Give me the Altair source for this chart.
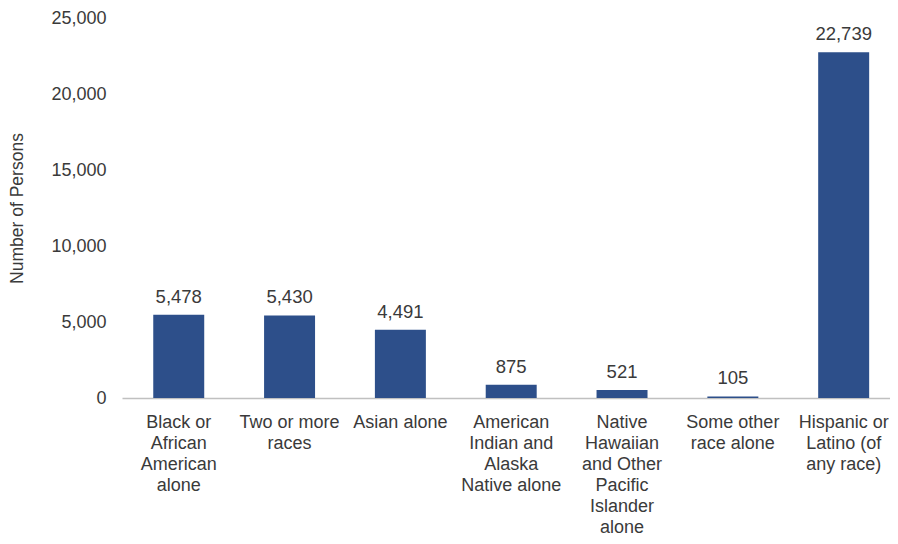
import altair as alt
import pandas as pd

categories = [
    "Black or|African|American|alone",
    "Two or more|races",
    "Asian alone",
    "American|Indian and|Alaska|Native alone",
    "Native|Hawaiian|and Other|Pacific|Islander|alone",
    "Some other|race alone",
    "Hispanic or|Latino (of|any race)",
]
values = [5478, 5430, 4491, 875, 521, 105, 22739]
y_ticks = [0, 5000, 10000, 15000, 20000, 25000]

df = pd.DataFrame({"cat": categories, "val": values})

FONT = "Liberation Sans"
TXT = "#3a3a3a"

x = alt.X("cat:N", sort=categories, title=None,
          scale=alt.Scale(paddingInner=0.54, paddingOuter=0.235, align=0.6),
          axis=alt.Axis(labelExpr="split(datum.label, '|')", labelAngle=0,
                        labelFontSize=18, labelColor=TXT, labelFont=FONT,
                        labelLineHeight=21, labelPadding=15, ticks=False,
                        domainColor="#c0c0c0", domainWidth=1.5, labelBaseline="top"))
y = alt.Y("val:Q", title="Number of Persons",
          scale=alt.Scale(domain=[0, 25000], nice=False),
          axis=alt.Axis(values=y_ticks, format=",.0f",
                        grid=False, domain=False, ticks=False,
                        labelFontSize=18, labelColor=TXT, labelFont=FONT,
                        labelPadding=16,
                        titleFontSize=17.5, titleFont=FONT, titleColor=TXT,
                        titleFontWeight="normal", titlePadding=24))

bars = alt.Chart(df).mark_bar(color="#2d4f8a").encode(x=x, y=y)
labels = alt.Chart(df).mark_text(dy=-18, fontSize=18.5, font=FONT,
                                 color=TXT, baseline="middle").encode(
    x=x,
    y=y,
    text=alt.Text("val:Q", format=",.0f"),
)

chart = (bars + labels).properties(
    width=768, height=380,
    autosize=alt.AutoSizeParams(type="none"),
    padding={"left": 114, "top": 10, "right": 0, "bottom": 137},
).configure_view(stroke=None)

chart.save("out.html", embed_options={"renderer": "svg", "actions": False})
